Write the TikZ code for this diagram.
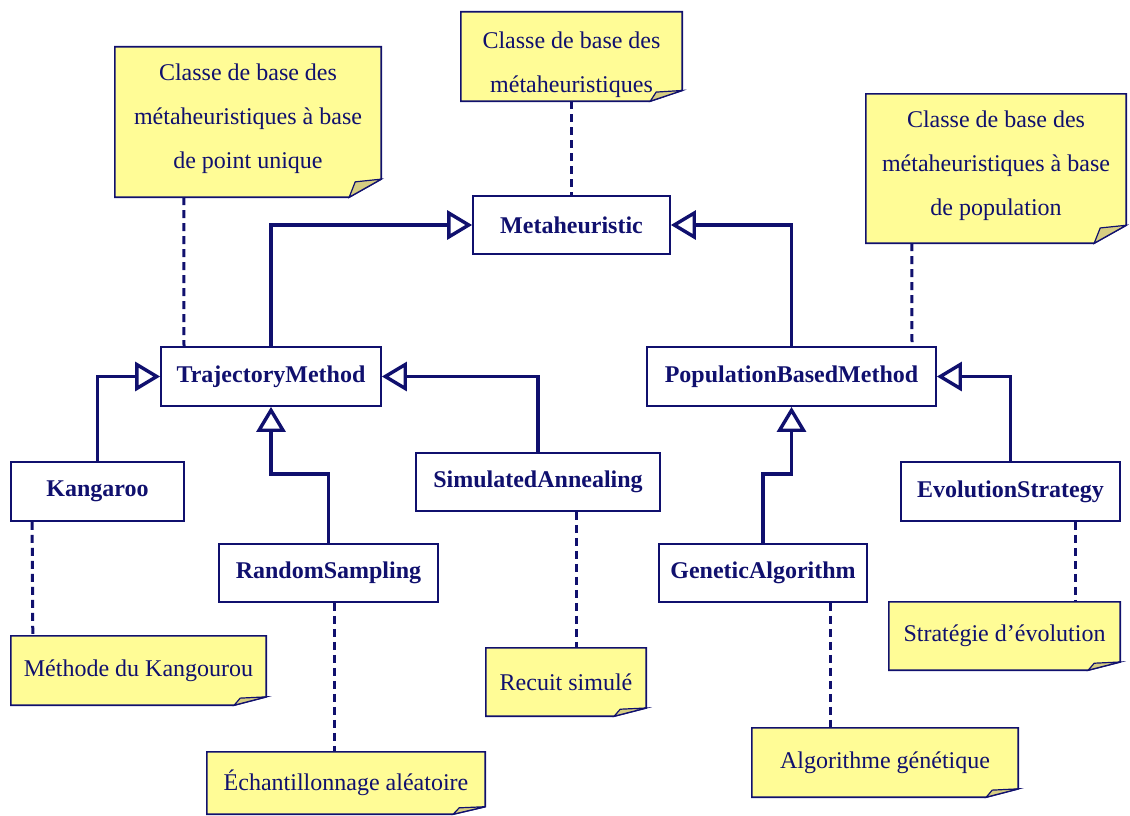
\documentclass[tikz,border=0pt]{standalone}
\usepackage{fontspec}
\setmainfont{Liberation Serif}
\usetikzlibrary{arrows.meta,backgrounds,calc}
\definecolor{marine}{RGB}{16,16,110}
\definecolor{notejaune}{RGB}{255,252,150}
\definecolor{plijaune}{RGB}{214,205,130}

\begin{document}
\begin{tikzpicture}[x=1pt,y=-1pt,
    classe/.style={draw=marine, line width=1.8pt, fill=white, text=marine,
        font=\fontsize{24}{26}\selectfont\bfseries, inner sep=0pt},
    note/.style={text=marine, align=center, inner sep=0pt,
        font=\fontsize{24}{44}\selectfont},
    herit/.style={draw=marine, line width=3.6pt,
        -{Triangle[open, fill=white, length=25pt, width=29pt, line width=3.4pt]}},
    lien/.style={draw=marine, line width=3pt, dash pattern=on 8pt off 5pt}]
    \useasboundingbox (0,0) rectangle (1130,816);

    % Classes
    \node[classe, minimum width=197pt, minimum height=58pt] (meta) at (571.5,225) {Metaheuristic};
    \node[classe, minimum width=220pt, minimum height=59pt] (traj) at (271,376.5) {TrajectoryMethod};
    \node[classe, minimum width=289pt, minimum height=59pt] (pop) at (791.5,376.5) {PopulationBasedMethod};
    \node[classe, minimum width=173pt, minimum height=59pt] (kang) at (97.5,491.5) {Kangaroo};
    \node[classe, minimum width=219pt, minimum height=58pt] (rand) at (328.5,573) {RandomSampling};
    \node[classe, minimum width=244pt, minimum height=58pt] (sim) at (538,482) {SimulatedAnnealing};
    \node[classe, minimum width=208pt, minimum height=58pt] (gen) at (763,573) {GeneticAlgorithm};
    \node[classe, minimum width=219pt, minimum height=59pt] (evo) at (1010.5,491.5) {EvolutionStrategy};

    % Notes
    \node[note, minimum width=266pt, minimum height=150pt] (nPoint) at (248,122)
        {Classe de base des\\métaheuristiques à base\\de point unique\rule[-11pt]{0pt}{11pt}};
    \node[note, minimum width=221pt, minimum height=89pt] (nMeta) at (571.5,56.5)
        {\rule{0pt}{33pt}Classe de base des\\métaheuristiques};
    \node[note, minimum width=260pt, minimum height=149pt] (nPop) at (996,168.5)
        {Classe de base des\\métaheuristiques à base\\de population\rule[-11pt]{0pt}{11pt}};
    \node[note, minimum width=255pt, minimum height=69pt] (nKang) at (138.5,670.5) {Méthode du Kangourou};
    \node[note, minimum width=278pt, minimum height=62pt] (nEch) at (346,783) {Échantillonnage aléatoire};
    \node[note, minimum width=160pt, minimum height=68pt] (nRecuit) at (566,682) {Recuit simulé};
    \node[note, minimum width=266pt, minimum height=69pt] (nAlgo) at (885,762.5) {Algorithme génétique};
    \node[note, minimum width=231pt, minimum height=68pt] (nStrat) at (1004.5,636) {Stratégie d’évolution};

    % Fond des notes avec coin replié
    \begin{pgfonlayer}{background}
    \foreach \nt in {nPoint,nMeta,nPop,nKang,nEch,nRecuit,nAlgo,nStrat} {
        \filldraw[fill=notejaune, draw=marine, line width=1.6pt]
            let \p1=(\nt.north west), \p2=(\nt.south east), \n1={0.12*(\y1-\y2)} in
            (\p1) -- (\x2,\y1) -- (\x2,{\y2+\n1}) -- ({\x2-32pt},\y2) -- (\x1,\y2) -- cycle;
        \filldraw[fill=plijaune, draw=marine, line width=1.2pt]
            let \p1=(\nt.north west), \p2=(\nt.south east), \n1={0.12*(\y1-\y2)} in
            (\x2,{\y2+\n1}) -- ({\x2-32pt},\y2) -- ({\x2-26pt},{\y2+0.85*\n1}) -- cycle;
    }
    \end{pgfonlayer}

    % Heritage
    \draw[herit] (traj.north) |- (meta.west);
    \draw[herit] (pop.north) |- (meta.east);
    \draw[herit] (kang.north) |- (traj.west);
    \draw[herit] (sim.north) |- (traj.east);
    \draw[herit] (evo.north) |- (pop.east);
    \draw[herit] (rand.north) -- ++(0,-69) -| (traj.south);
    \draw[herit] (gen.north) -- ++(0,-69) -| (pop.south);

    % Liens vers les notes
    \draw[lien] ([xshift=69pt]nPoint.south west) -- ([xshift=-87pt]traj.north);
    \draw[lien] (nMeta.south) -- (meta.north);
    \draw[lien] ([xshift=46pt]nPop.south west) -- ([xshift=120.5pt]pop.north);
    \draw[lien] ([xshift=22pt]kang.south west) -- ([xshift=22pt]nKang.north west);
    \draw[lien] ([xshift=5.5pt]rand.south) -- ([xshift=-12pt]nEch.north);
    \draw[lien] ([xshift=38pt]sim.south) -- ([xshift=10pt]nRecuit.north);
    \draw[lien] ([xshift=67pt]gen.south) -- ([xshift=-55pt]nAlgo.north);
    \draw[lien] ([xshift=64.5pt]evo.south) -- ([xshift=70.5pt]nStrat.north);
\end{tikzpicture}
\end{document}
